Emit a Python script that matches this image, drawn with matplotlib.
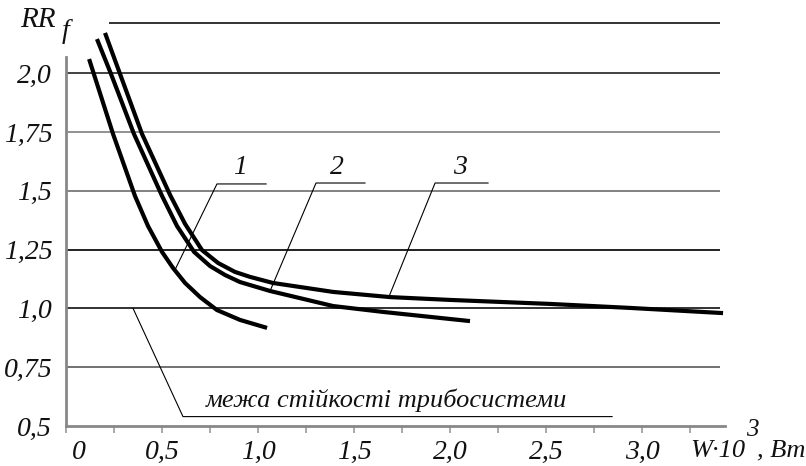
import matplotlib.pyplot as plt
from matplotlib.transforms import ScaledTranslation

# curves RR_f(W)
w1 = [0.12, 0.245, 0.359, 0.427, 0.5, 0.557, 0.62, 0.698, 0.786, 0.906, 1.047]
rr1 = [2.06, 1.741, 1.478, 1.35, 1.24, 1.172, 1.108, 1.048, 0.993, 0.951, 0.917]

w2 = [0.161, 0.234, 0.354, 0.5, 0.578, 0.667, 0.75, 0.828, 0.906, 1.0625, 1.391, 1.651, 2.104]
rr2 = [2.145, 1.997, 1.741, 1.478, 1.35, 1.24, 1.18, 1.142, 1.112, 1.074, 1.01, 0.985, 0.946]

w3 = [0.203, 0.281, 0.396, 0.542, 0.62, 0.708, 0.792, 0.88, 0.958, 1.078, 1.391, 1.688,
      2.0, 2.521, 2.938, 3.422]
rr3 = [2.171, 1.997, 1.741, 1.482, 1.359, 1.248, 1.193, 1.155, 1.134, 1.108, 1.07, 1.048,
       1.036, 1.019, 1.002, 0.98]

y_ticks = [0.5, 0.75, 1.0, 1.25, 1.5, 1.75, 2.0]
y_labels = ['0,5', '0,75', '1,0', '1,25', '1,5', '1,75', '2,0']
x_ticks = [0, 0.5, 1.0, 1.5, 2.0, 2.5, 3.0]
x_labels = ['0', '0,5', '1,0', '1,5', '2,0', '2,5', '3,0']

grid_y = [0.75, 1.0, 1.25, 1.5, 1.75, 2.0]
grid_c = ['#666666', '#222222', '#111111', '#777777', '#888888', '#333333']

fnt = dict(family='Liberation Serif', style='italic', color='#111111')

fig = plt.figure(figsize=(8.06, 4.66), dpi=100)
ax = fig.add_axes([0, 0, 1, 1])
ax.set_xlim(-0.344, 3.854)
ax.set_ylim(0.330, 2.311)

# grid lines
for yv, c in zip(grid_y, grid_c):
    ax.hlines(yv, 0, 3.406, color=c, lw=1.3)
ax.hlines(2.213, 0.224, 3.406, color='#222222', lw=1.3)

# axes
for s in ['top', 'right']:
    ax.spines[s].set_visible(False)
ax.spines['left'].set_position(('data', 0))
ax.spines['left'].set_bounds(0.5, 2.07)
ax.spines['bottom'].set_position(('data', 0.5))
ax.spines['bottom'].set_bounds(0, 3.43)
for s in ['left', 'bottom']:
    ax.spines[s].set_color('#888888')
    ax.spines[s].set_linewidth(2)

ax.set_yticks(y_ticks)
ax.set_yticklabels(y_labels, fontsize=20, **fnt)
ax.tick_params(axis='y', length=0, pad=10)
ax.set_xticks(x_ticks)
ax.set_xticklabels(x_labels, fontsize=20, **fnt)
ax.set_xticks([0.25 * i for i in range(1, 14)], minor=True)
ax.tick_params(axis='x', which='both', direction='out', length=5, width=1.2,
               color='#999999', pad=5)
lbl0 = ax.get_xticklabels()[0]
lbl0.set_transform(lbl0.get_transform() + ScaledTranslation(0.13, 0, fig.dpi_scale_trans))

# curves
for w, rr in [(w1, rr1), (w2, rr2), (w3, rr3)]:
    ax.plot(w, rr, color='black', lw=3, solid_capstyle='butt', solid_joinstyle='round')

# leaders to curve numbers
ax.plot([0.568, 0.786, 1.042], [1.165, 1.529, 1.529], color='black', lw=0.8)
ax.plot([1.0625, 1.302, 1.557], [1.074, 1.533, 1.533], color='black', lw=0.8)
ax.plot([1.682, 1.922, 2.198], [1.05, 1.533, 1.533], color='black', lw=0.8)
ax.text(0.906, 1.6, '1', fontsize=20, ha='center', va='center', **fnt)
ax.text(1.411, 1.6, '2', fontsize=20, ha='center', va='center', **fnt)
ax.text(2.052, 1.6, '3', fontsize=20, ha='center', va='center', **fnt)

# stability limit
ax.plot([0.349, 0.609, 2.844], [1.0, 0.54, 0.54], color='black', lw=0.8)
ax.text(1.667, 0.61, 'межа стійкості трибосистеми', fontsize=19,
        ha='center', va='center', **fnt)

# axis titles
ax.text(-0.146, 2.226, 'RR', fontsize=21, ha='center', va='center', **fnt)
ax.text(-0.005, 2.175, 'f', fontsize=20, ha='center', va='center', **fnt)
ax.text(3.25, 0.394, 'W·10', fontsize=19, ha='left', va='center', **fnt)
ax.text(3.573, 0.483, '3', fontsize=18, ha='center', va='center', **fnt)
ax.text(3.599, 0.394, ', Bm', fontsize=19, ha='left', va='center', **fnt)

fig.savefig('out.png', dpi=100)
